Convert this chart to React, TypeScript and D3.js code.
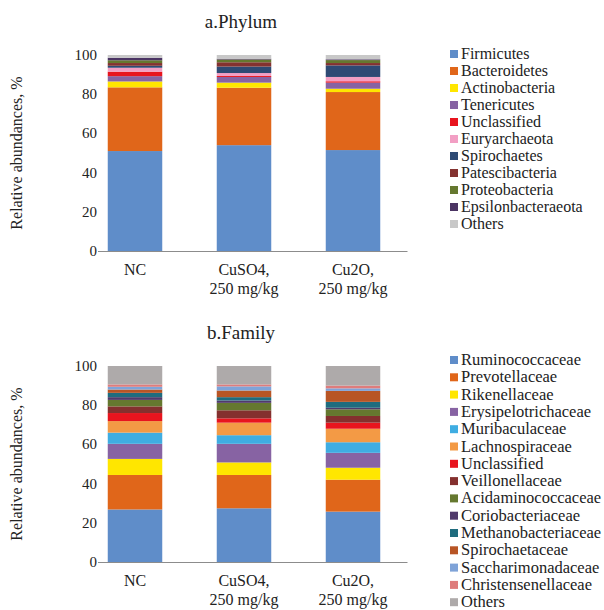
import { useEffect, useRef } from "react"
import * as d3 from "d3"

const groups = ["NC", "CuSO4", "Cu2O"]
const groupLabels = [["NC"], ["CuSO4,", "250 mg/kg"], ["Cu2O,", "250 mg/kg"]]
const yTicks = [0, 20, 40, 60, 80, 100]

const phylumNames = [
    "Firmicutes", "Bacteroidetes", "Actinobacteria", "Tenericutes", "Unclassified", "Euryarchaeota",
    "Spirochaetes", "Patescibacteria", "Proteobacteria", "Epsilonbacteraeota", "Others",
]
const phylumColors = [
    "#5f8dc9", "#e0661a", "#ffe600", "#8763a3", "#e8141e", "#f29fc4",
    "#2e4a74", "#843230", "#65782f", "#4b3463", "#c8c8c8",
]
const phylumNC = [51, 32.5, 3, 2.7, 2.3, 2, 1, 1.4, 1.4, 1.3, 1.4]
const phylumCuSO4 = [54, 29.3, 2.6, 2.9, 0.5, 1.5, 3.3, 2.2, 1.4, 0.4, 1.9]
const phylumCu2O = [51.5, 29.6, 1.7, 3.1, 0.7, 2.2, 5.9, 1.2, 1.5, 0.4, 2.2]

const familyNames = [
    "Ruminococcaceae", "Prevotellaceae", "Rikenellaceae", "Erysipelotrichaceae", "Muribaculaceae",
    "Lachnospiraceae", "Unclassified", "Veillonellaceae", "Acidaminococcaceae", "Coriobacteriaceae",
    "Methanobacteriaceae", "Spirochaetaceae", "Saccharimonadaceae", "Christensenellaceae", "Others",
]
const familyColors = [
    "#5f8dc9", "#e0661a", "#ffe600", "#8763a3", "#3fade2",
    "#f39a45", "#e8141e", "#84302e", "#65782f", "#503a6b",
    "#1f6c7e", "#b85525", "#7fa3d8", "#de7c7c", "#aeaaaa",
]
const familyNC = [26.8, 17.6, 8.2, 7.7, 5.7, 5.9, 4.1, 3.4, 3.3, 1.4, 2.2, 1.7, 1.4, 1.2, 9.4]
const familyCuSO4 = [27.4, 17, 6.4, 9.5, 4.4, 6.4, 2.2, 4.1, 3.8, 1.2, 1.7, 3.4, 2.1, 1.0, 9.4]
const familyCu2O = [25.7, 16.3, 6.1, 7.6, 5.4, 6.9, 3.1, 3.4, 3.4, 0.8, 3.0, 5.6, 1.3, 1.4, 10]

const font = "Liberation Serif"

function drawPanel(root, opts) {
    const { top, title, names, colors, values, legendTop, legendStep, legendSize } = opts
    const plotTop = top + 45
    const plotBottom = top + 241

    const g = root.append("g").attr("font-family", font).attr("fill", "#222")

    const x = d3.scaleBand().domain(groups).range([80.5, 407.5])
    const y = d3.scaleLinear().domain([0, 100]).range([plotBottom, plotTop])

    const rows = groups.map((grp, i) => {
        const r = { group: grp }
        names.forEach((n, j) => (r[n] = values[i][j]))
        return r
    })
    const series = d3.stack().keys(names)(rows)

    g.append("text")
        .attr("x", 241)
        .attr("y", top + 18)
        .attr("text-anchor", "middle")
        .attr("font-size", 19)
        .text(title)

    // y ticks
    g.selectAll(".ytick")
        .data(yTicks)
        .enter()
        .append("text")
        .attr("x", 97)
        .attr("y", (d) => y(d) + 5)
        .attr("text-anchor", "end")
        .attr("font-size", 15)
        .text((d) => d)

    g.append("text")
        .attr("transform", `translate(22,${(plotTop + plotBottom) / 2}) rotate(-90)`)
        .attr("text-anchor", "middle")
        .attr("font-size", 16)
        .text("Relative abundances, %")

    const barW = x.bandwidth() * 0.5
    series.forEach((s, k) => {
        g.selectAll(null)
            .data(s)
            .enter()
            .append("rect")
            .attr("x", (d) => x(d.data.group) + (x.bandwidth() - barW) / 2)
            .attr("y", (d) => y(d[1]))
            .attr("width", barW)
            .attr("height", (d) => y(d[0]) - y(d[1]))
            .attr("fill", colors[k])
    })

    g.append("line")
        .attr("x1", 98)
        .attr("x2", 407.5)
        .attr("y1", plotBottom + 0.5)
        .attr("y2", plotBottom + 0.5)
        .attr("stroke", "#8c8c8c")
        .attr("stroke-width", 1)

    groups.forEach((grp, i) => {
        const t = g.append("text")
            .attr("x", x(grp) + x.bandwidth() / 2)
            .attr("y", plotBottom + 24)
            .attr("text-anchor", "middle")
            .attr("font-size", 16)
        groupLabels[i].forEach((line, li) => {
            t.append("tspan")
                .attr("x", x(grp) + x.bandwidth() / 2)
                .attr("dy", li === 0 ? 0 : 19)
                .text(line)
        })
    })

    const leg = g.selectAll(".leg")
        .data(names)
        .enter()
        .append("g")
        .attr("transform", (d, i) => `translate(450,${legendTop + i * legendStep})`)
    leg.append("rect")
        .attr("x", 0)
        .attr("y", -9)
        .attr("width", 8)
        .attr("height", 8)
        .attr("fill", (d, i) => colors[i])
    leg.append("text")
        .attr("x", 11)
        .attr("y", 0)
        .attr("font-size", legendSize)
        .text((d) => d)
}

export default function App() {
    const svgRef = useRef(null)

    useEffect(() => {
        const svg = d3.select(svgRef.current)
        svg.selectAll("*").remove()
        drawPanel(svg, {
            top: 10,
            title: "a.Phylum",
            names: phylumNames,
            colors: phylumColors,
            values: [phylumNC, phylumCuSO4, phylumCu2O],
            legendTop: 59,
            legendStep: 17,
            legendSize: 16,
        })
        drawPanel(svg, {
            top: 321,
            title: "b.Family",
            names: familyNames,
            colors: familyColors,
            values: [familyNC, familyCuSO4, familyCu2O],
            legendTop: 365,
            legendStep: 17.3,
            legendSize: 16.5,
        })
    }, [])

    return (
        <svg
            ref={svgRef}
            width={604}
            height={610}
            style={{ position: "absolute", left: 0, top: 0, background: "#fff" }}
        ></svg>
    )
}
